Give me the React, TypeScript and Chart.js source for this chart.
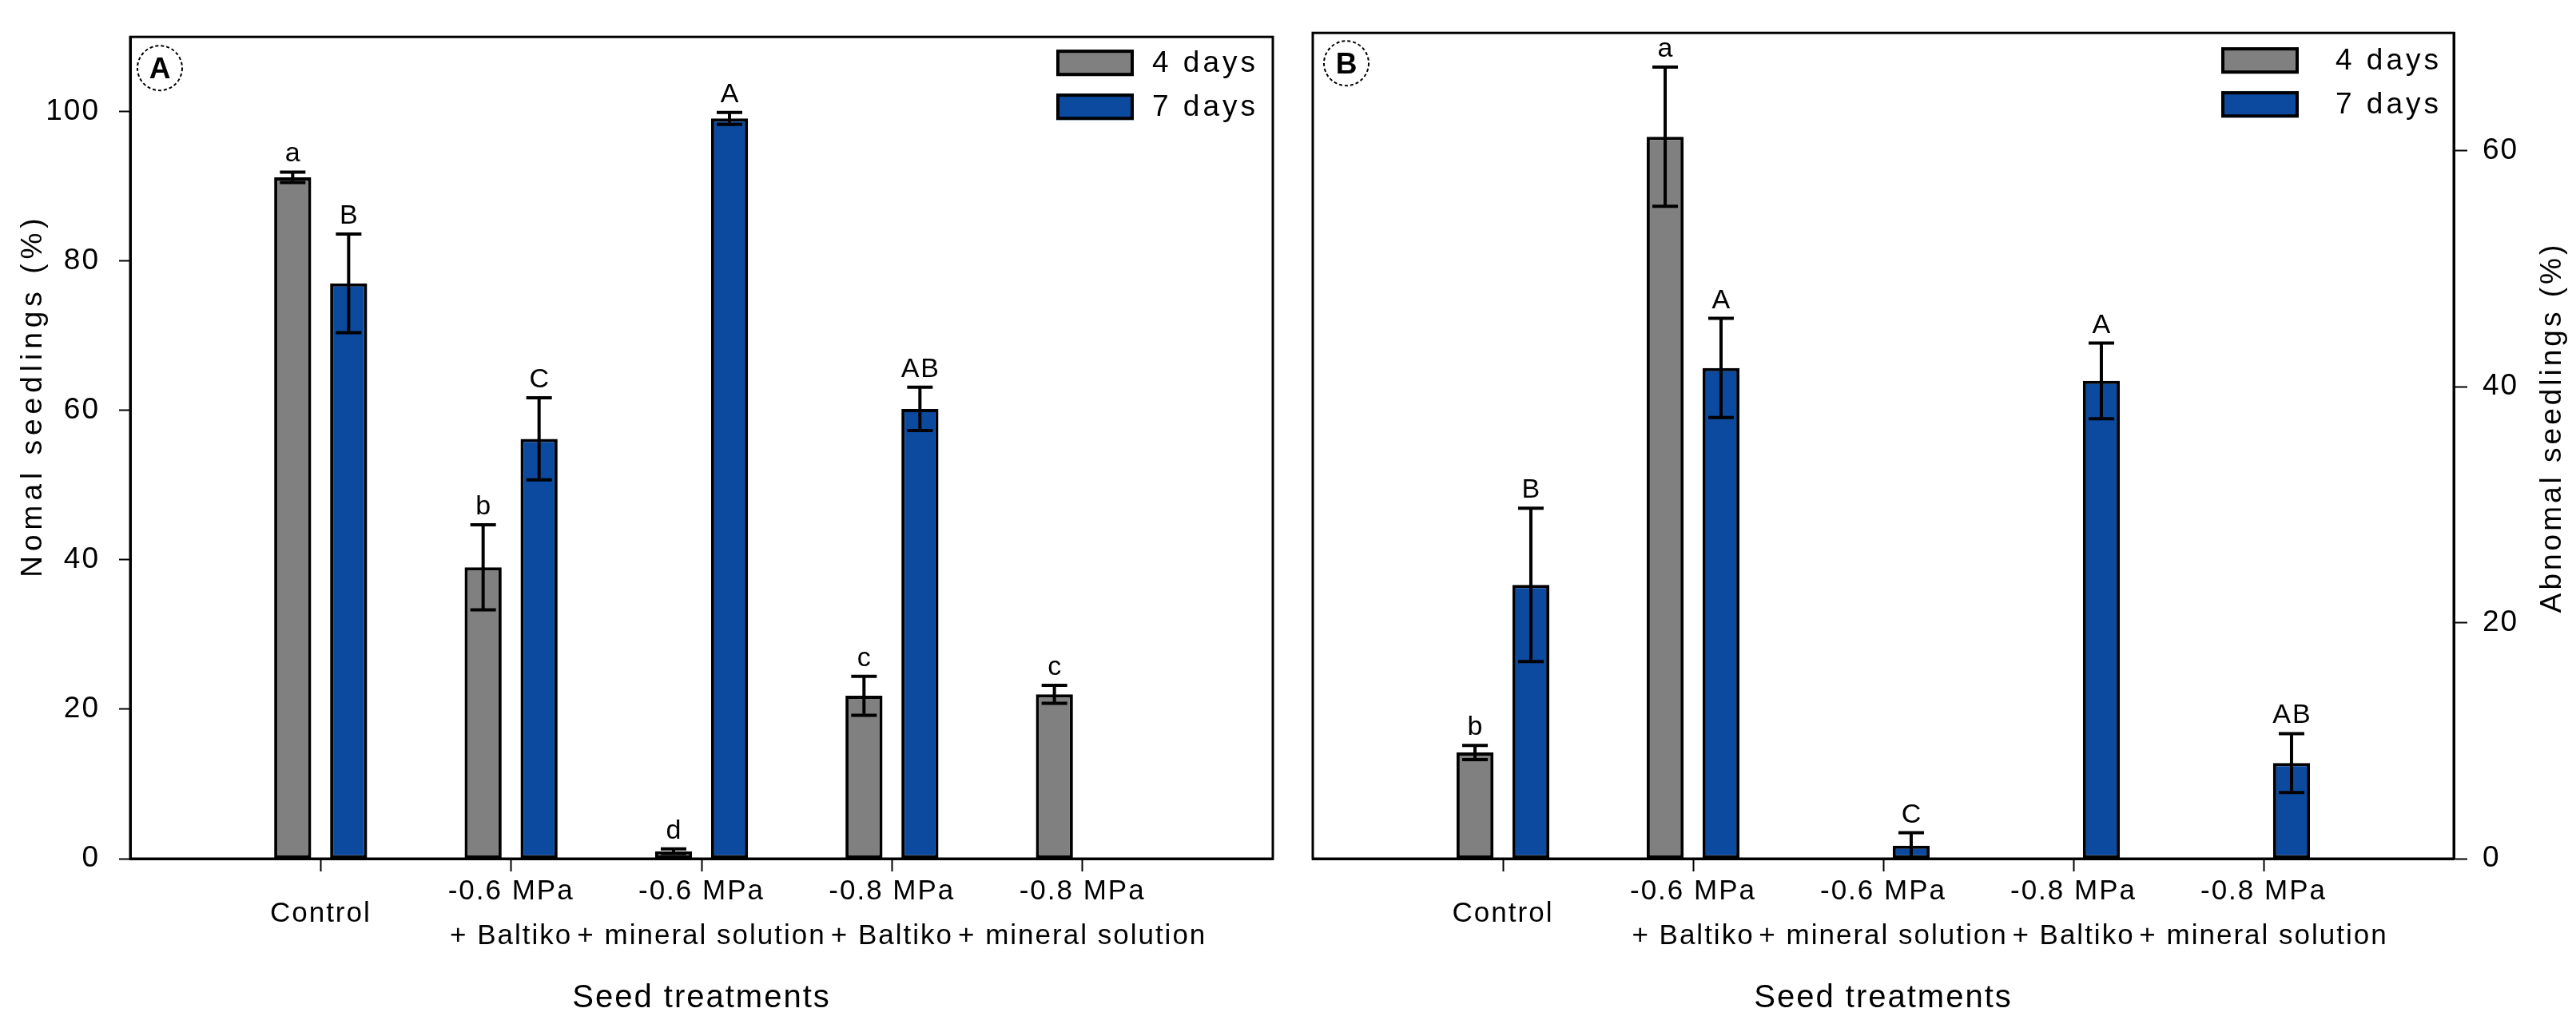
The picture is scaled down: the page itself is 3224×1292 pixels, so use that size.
import { useEffect, useRef } from 'react';
import { Chart, registerables } from 'chart.js';

Chart.register(...registerables);

const FONT = '"Liberation Sans", Arial, Helvetica, sans-serif';

// Seed treatments along the x axis
const treatments: (string | string[])[] = [
  'Control',
  ['-0.6 MPa', '+ Baltiko'],
  ['-0.6 MPa', '+ mineral solution'],
  ['-0.8 MPa', '+ Baltiko'],
  ['-0.8 MPa', '+ mineral solution'],
];

const seriesLabels = ['4 days', '7 days'];
const seriesColors = ['#808080', '#0b4a9e'];

// Panel A: normal seedlings (%)
const normal4d = [91.2, 39.0, 1.0, 21.8, 22.0];
const normal4dErr = [0.7, 5.7, 0.3, 2.6, 1.2];
const normal4dLetters = ['a', 'b', 'd', 'c', 'c'];
const normal7d = [77.0, 56.2, 99.1, 60.2, null];
const normal7dErr = [6.6, 5.5, 0.8, 2.9, null];
const normal7dLetters = ['B', 'C', 'A', 'AB', ''];
const normalTicks = [0, 20, 40, 60, 80, 100];

// Panel B: abnormal seedlings (%)
const abnormal4d = [9.0, 61.2, null, null, null];
const abnormal4dErr = [0.6, 5.9, null, null, null];
const abnormal4dLetters = ['b', 'a', '', '', ''];
const abnormal7d = [23.2, 41.6, 1.1, 40.5, 8.1];
const abnormal7dErr = [6.5, 4.2, 1.1, 3.2, 2.5];
const abnormal7dLetters = ['B', 'A', 'C', 'A', 'AB'];
const abnormalTicks = [0, 20, 40, 60];

// One empty slot on each side of the five treatments
function pad(a: any[]): any[] {
  return [null, ...a, null];
}
const paddedLabels = ['', ...treatments, ''];

const panelPlugin = {
  id: 'panel',
  beforeDraw(chart: any) {
    chart.ctx.letterSpacing = '2px';
  },
  afterDatasetsDraw(chart: any, _args: any, o: any) {
    const ctx = chart.ctx;
    const ys = chart.scales.y;
    chart.data.datasets.forEach((ds: any, di: number) => {
      const meta = chart.getDatasetMeta(di);
      meta.data.forEach((bar: any, i: number) => {
        const v = ds.data[i];
        if (v === null || v === undefined) return;
        const e = o.errors[di][i] ?? 0;
        const yTop = ys.getPixelForValue(v + e);
        const yBot = ys.getPixelForValue(Math.max(0, v - e));
        ctx.save();
        ctx.strokeStyle = '#000';
        ctx.lineWidth = 4;
        ctx.beginPath();
        ctx.moveTo(bar.x, yTop);
        ctx.lineTo(bar.x, yBot);
        ctx.moveTo(bar.x - 16, yTop);
        ctx.lineTo(bar.x + 16, yTop);
        ctx.moveTo(bar.x - 16, yBot);
        ctx.lineTo(bar.x + 16, yBot);
        ctx.stroke();
        const letter = o.letters[di][i];
        if (letter) {
          ctx.fillStyle = '#000';
          ctx.font = `34px ${FONT}`;
          ctx.letterSpacing = '2px';
          ctx.textAlign = 'center';
          ctx.textBaseline = 'alphabetic';
          ctx.fillText(letter, bar.x + 1, yTop - 13);
        }
        ctx.restore();
      });
    });
  },
  afterDraw(chart: any, _args: any, o: any) {
    const ctx = chart.ctx;
    const { left, right, top, bottom } = chart.chartArea;
    ctx.save();
    ctx.fillStyle = '#000';
    ctx.strokeStyle = '#000';

    // frame around the plot
    ctx.lineWidth = 3;
    ctx.strokeRect(left, top, right - left, bottom - top);

    // panel letter in a dashed circle
    const bx = left + o.badge.dx;
    const by = top + o.badge.dy;
    ctx.lineWidth = 2;
    ctx.setLineDash([4, 3]);
    ctx.beginPath();
    ctx.arc(bx, by, 28, 0, Math.PI * 2);
    ctx.stroke();
    ctx.setLineDash([]);
    ctx.font = `bold 37px ${FONT}`;
    ctx.letterSpacing = '0px';
    ctx.textAlign = 'center';
    ctx.textBaseline = 'alphabetic';
    ctx.fillText(o.badge.text, bx, by + 13);

    // legend
    seriesLabels.forEach((lab, k) => {
      const lx = right - o.legend.fromRight;
      const ly = top + o.legend.tops[k];
      ctx.fillStyle = seriesColors[k];
      ctx.fillRect(lx, ly, 97, 33);
      ctx.lineWidth = 4;
      ctx.strokeStyle = '#000';
      ctx.strokeRect(lx + 2, ly + 2, 93, 29);
      ctx.fillStyle = '#000';
      ctx.font = `37px ${FONT}`;
      ctx.letterSpacing = '4px';
      ctx.textAlign = 'left';
      ctx.textBaseline = 'middle';
      ctx.fillText(lab, lx + 97 + o.legend.gap, ly + 18);
    });

    // y axis title, reading bottom to top
    ctx.translate(o.yTitle.x, o.yTitle.y);
    ctx.rotate(-Math.PI / 2);
    ctx.font = `37px ${FONT}`;
    ctx.letterSpacing = `${o.yTitle.spacing}px`;
    ctx.textAlign = 'center';
    ctx.textBaseline = 'alphabetic';
    ctx.fillStyle = '#000';
    ctx.fillText(o.yTitle.text, 0, 0);
    ctx.restore();
  },
};

const panelA = {
  values: [normal4d, normal7d],
  errors: [normal4dErr, normal7dErr],
  letters: [normal4dLetters, normal7dLetters],
  yMax: 110,
  yTicks: normalTicks,
  yPosition: 'left',
  yAxisWidth: 163,
  tickLength: 14,
  tickPadding: 24,
  padding: { left: 0, right: 5, top: 31, bottom: 0 },
  badge: { text: 'A', dx: 37, dy: 39 },
  legend: { fromRight: 271, tops: [16, 71], gap: 23 },
  yTitle: { text: 'Nomal seedlings (%)', x: 52, y: 495, spacing: 6 },
};

const panelB = {
  values: [abnormal4d, abnormal7d],
  errors: [abnormal4dErr, abnormal7dErr],
  letters: [abnormal4dLetters, abnormal7dLetters],
  yMax: 70,
  yTicks: abnormalTicks,
  yPosition: 'right',
  yAxisWidth: 153,
  tickLength: 17,
  tickPadding: 19,
  padding: { left: 5, right: 0, top: 31, bottom: 0 },
  badge: { text: 'B', dx: 42, dy: 38 },
  legend: { fromRight: 291, tops: [18, 73], gap: 46 },
  yTitle: { text: 'Abnomal seedlings (%)', x: 1587, y: 535, spacing: 4 },
};

function buildConfig(p: any): any {
  const lastIndex = paddedLabels.length - 1;
  return {
    type: 'bar',
    data: {
      labels: paddedLabels,
      datasets: seriesLabels.map((label, k) => ({
        label,
        data: pad(p.values[k]),
        backgroundColor: seriesColors[k],
        borderColor: '#000',
        borderWidth: 4,
        borderSkipped: false,
        categoryPercentage: 0.5876,
        barPercentage: 0.662,
      })),
    },
    options: {
      responsive: false,
      animation: false,
      devicePixelRatio: 1,
      layout: { padding: p.padding },
      plugins: {
        legend: { display: false },
        tooltip: { enabled: false },
        panel: {
          errors: p.errors.map(pad),
          letters: p.letters.map(pad),
          badge: p.badge,
          legend: p.legend,
          yTitle: p.yTitle,
        },
      },
      scales: {
        x: {
          type: 'category',
          offset: false,
          grid: {
            display: true,
            offset: false,
            drawOnChartArea: false,
            drawTicks: true,
            tickLength: 16,
            tickWidth: 2,
            color: 'rgba(0,0,0,0)',
            tickColor: (c: any) => (c.index === 0 || c.index === lastIndex ? 'rgba(0,0,0,0)' : '#000'),
          },
          border: { display: true, color: '#000', width: 3 },
          ticks: {
            autoSkip: false,
            maxRotation: 0,
            minRotation: 0,
            color: '#000',
            font: { family: FONT, size: 35, lineHeight: 1.6 },
            padding: 25,
            crossAlign: 'center',
          },
          title: {
            display: true,
            text: 'Seed treatments',
            color: '#000',
            font: { family: FONT, size: 40, lineHeight: 1.2 },
            padding: { top: 0, bottom: 18 },
          },
          afterFit: (s: any) => {
            s.height = 217;
          },
        },
        y: {
          position: p.yPosition,
          min: 0,
          max: p.yMax,
          afterBuildTicks: (s: any) => {
            s.ticks = p.yTicks.map((value: number) => ({ value }));
          },
          grid: {
            drawOnChartArea: false,
            drawTicks: true,
            tickLength: p.tickLength,
            tickWidth: 2,
            tickColor: '#000',
            color: '#000',
          },
          border: { display: true, color: '#000', width: 3 },
          ticks: {
            color: '#000',
            font: { family: FONT, size: 37 },
            padding: p.tickPadding,
          },
          afterFit: (s: any) => {
            s.width = p.yAxisWidth;
          },
        },
      },
    },
    plugins: [panelPlugin],
  };
}

export default function App() {
  const refA = useRef<HTMLCanvasElement>(null);
  const refB = useRef<HTMLCanvasElement>(null);

  useEffect(() => {
    const a = new Chart(refA.current as HTMLCanvasElement, buildConfig(panelA));
    const b = new Chart(refB.current as HTMLCanvasElement, buildConfig(panelB));
    return () => {
      a.destroy();
      b.destroy();
    };
  }, []);

  return (
    <div
      style={{
        position: 'absolute',
        left: 0,
        top: 0,
        width: 3224,
        height: 1292,
        background: '#fff',
        overflow: 'hidden',
      }}
    >
      <canvas
        ref={refA}
        width={1618}
        height={1292}
        style={{ position: 'absolute', left: 0, top: 0, width: 1618, height: 1292 }}
      />
      <canvas
        ref={refB}
        width={1606}
        height={1292}
        style={{ position: 'absolute', left: 1618, top: 0, width: 1606, height: 1292 }}
      />
    </div>
  );
}
